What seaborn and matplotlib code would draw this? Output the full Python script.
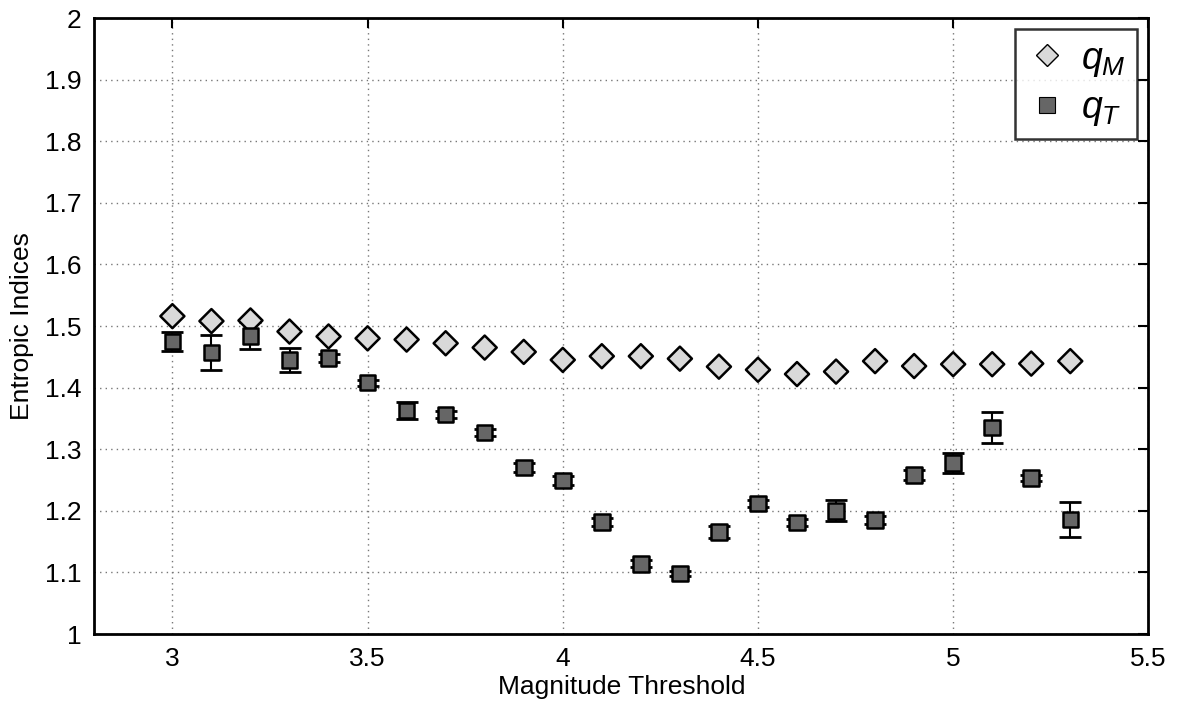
import numpy as np
import pandas as pd
import matplotlib
matplotlib.use("Agg")
import matplotlib.pyplot as plt
import seaborn as sns
from matplotlib.lines import Line2D

thresholds = [3.0, 3.1, 3.2, 3.3, 3.4, 3.5, 3.6, 3.7, 3.8, 3.9, 4.0, 4.1,
              4.2, 4.3, 4.4, 4.5, 4.6, 4.7, 4.8, 4.9, 5.0, 5.1, 5.2, 5.3]
q_m = [1.516, 1.508, 1.509, 1.491, 1.483, 1.480, 1.478, 1.472, 1.465, 1.458,
       1.445, 1.451, 1.451, 1.447, 1.434, 1.429, 1.422, 1.426, 1.443, 1.435,
       1.438, 1.438, 1.439, 1.443]
q_m_err = [0.003, 0.003, 0.003, 0.003, 0.003, 0.003, 0.003, 0.003, 0.003, 0.003,
           0.003, 0.003, 0.003, 0.003, 0.003, 0.003, 0.003, 0.003, 0.003, 0.003,
           0.003, 0.004, 0.004, 0.003]
q_t = [1.475, 1.457, 1.484, 1.445, 1.448, 1.408, 1.363, 1.356, 1.327, 1.270,
       1.249, 1.182, 1.114, 1.098, 1.166, 1.212, 1.181, 1.200, 1.185, 1.258,
       1.278, 1.335, 1.253, 1.186]
q_t_err = [0.015, 0.028, 0.022, 0.019, 0.006, 0.005, 0.014, 0.006, 0.006, 0.007,
           0.007, 0.006, 0.006, 0.004, 0.010, 0.006, 0.005, 0.017, 0.006, 0.008,
           0.016, 0.025, 0.005, 0.028]
x_ticks = [3, 3.5, 4, 4.5, 5, 5.5]
x_tick_labels = ["3", "3.5", "4", "4.5", "5", "5.5"]
y_ticks = [1.0, 1.1, 1.2, 1.3, 1.4, 1.5, 1.6, 1.7, 1.8, 1.9, 2.0]
y_tick_labels = ["1", "1.1", "1.2", "1.3", "1.4", "1.5", "1.6", "1.7", "1.8", "1.9", "2"]
series_names = [r"$q_M$", r"$q_T$"]

sns.set_theme(style="white")
plt.rcParams["font.family"] = ["Liberation Sans", "DejaVu Sans"]
plt.rcParams["mathtext.fontset"] = "custom"
plt.rcParams["mathtext.it"] = "Liberation Sans:italic"
plt.rcParams["mathtext.rm"] = "Liberation Sans"
plt.rcParams["text.color"] = "black"
plt.rcParams["axes.labelcolor"] = "black"
plt.rcParams["xtick.color"] = "black"
plt.rcParams["ytick.color"] = "black"

df = pd.DataFrame({
    "Magnitude Threshold": thresholds * 2,
    "value": q_m + q_t,
    "err": q_m_err + q_t_err,
    "series": [series_names[0]] * len(thresholds) + [series_names[1]] * len(thresholds),
})

fig = plt.figure(figsize=(11.79, 7.04), dpi=100)
ax = fig.add_axes([0.080, 0.0994, 0.894, 0.875])

ax.errorbar(thresholds, q_m, yerr=q_m_err, fmt="none", ecolor="black",
            elinewidth=1.5, capsize=7, capthick=1.5, zorder=2)
ax.errorbar(thresholds, q_t, yerr=q_t_err, fmt="none", ecolor="black",
            elinewidth=1.5, capsize=8, capthick=2, zorder=2)

sns.scatterplot(data=df, x="Magnitude Threshold", y="value", hue="series",
                style="series", size="series",
                sizes={series_names[0]: 150, series_names[1]: 125},
                palette={series_names[0]: "#d9d9d9", series_names[1]: "#666666"},
                markers={series_names[0]: "D", series_names[1]: "s"},
                edgecolor="black", linewidth=1.8, ax=ax, zorder=3,
                legend=False)

ax.set_xlim(2.8, 5.5)
ax.set_ylim(1.0, 2.0)
ax.set_xticks(x_ticks)
ax.set_xticklabels(x_tick_labels)
ax.set_yticks(y_ticks)
ax.set_yticklabels(y_tick_labels)
ax.tick_params(axis="both", direction="in", length=7, width=1.5, labelsize=19,
               top=True, right=True, colors="black", pad=9)
ax.set_xlabel("Magnitude Threshold", fontsize=19, labelpad=3, color="black")
ax.set_ylabel("Entropic Indices", fontsize=19, labelpad=8, color="black")
ax.grid(True, linestyle=(0, (1, 3)), color="#777777", linewidth=1.0)
ax.set_axisbelow(True)
for sp in ax.spines.values():
    sp.set_visible(True)
    sp.set_color("black")
    sp.set_linewidth(2.0)

handles = [
    Line2D([], [], linestyle="none", marker="D", markersize=11,
           markerfacecolor="#d9d9d9", markeredgecolor="black", markeredgewidth=1.0),
    Line2D([], [], linestyle="none", marker="s", markersize=11,
           markerfacecolor="#666666", markeredgecolor="black", markeredgewidth=0.8),
]
leg = ax.legend(handles, series_names, loc="upper right",
                fontsize=27, frameon=True, fancybox=False, edgecolor="black",
                borderpad=0.3, handletextpad=0.35, labelspacing=0.3,
                borderaxespad=0.3, handlelength=1.1)
leg.get_frame().set_linewidth(1.8)
for t in leg.get_texts():
    t.set_color("black")

fig.savefig("out.png", dpi=100)
